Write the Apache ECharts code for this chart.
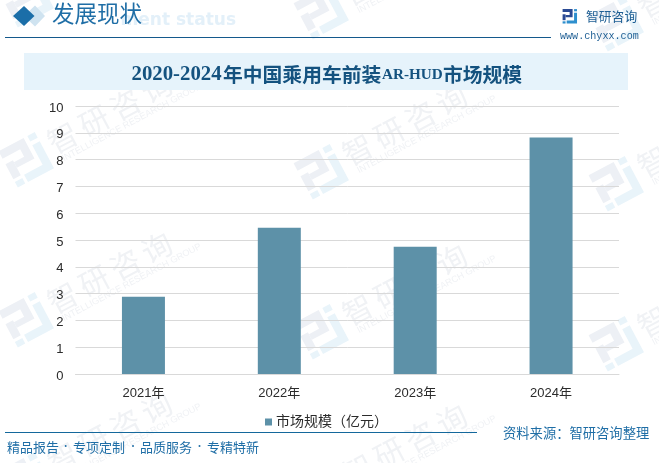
<!DOCTYPE html>
<html><head><meta charset="utf-8">
<style>html,body{margin:0;padding:0;background:#fff}#c{width:659px;height:463px}</style>
<script src="https://cdn.jsdelivr.net/npm/echarts@6/dist/echarts.min.js"></script>
</head><body><div id="c"></div>
<script>
var categories=['2021年','2022年','2023年','2024年'];
var seriesName='市场规模（亿元）';
var marketSize=[2.88,5.46,4.75,8.82];
var sans='"Noto Sans CJK SC"';
var serif='"Liberation Serif","Noto Sans CJK SC"';
var label='"Liberation Sans","Noto Sans CJK SC"';

function logo(x,y,s,rot,c1,c2,z){
  return {type:'group',x:x,y:y,scaleX:s,scaleY:s,rotation:rot,silent:true,children:[
    {type:'polygon',z:z,shape:{points:[[-20,-20],[7,-20],[7,2],[-12,2],[-12,-4],[-1,-4],[-1,-12],[-20,-12]]},style:{fill:c1}},
    {type:'rect',z:z,shape:{x:-20,y:-6,width:8,height:16},style:{fill:c1}},
    {type:'rect',z:z,shape:{x:-20,y:13,width:8,height:6},style:{fill:c2}},
    {type:'rect',z:z,shape:{x:11,y:-20,width:8,height:6},style:{fill:c2}},
    {type:'polygon',z:z,shape:{points:[[11,-10],[19,-10],[19,19],[-9,19],[-9,11],[11,11]]},style:{fill:c2}}
  ]};
}
var graphics=[];
var theta=28*Math.PI/180, wmText='智研咨询';
for(var k=0;k<3;k++){
  for(var j=-1;j<3;j++){
    var px=27+295*k, py=160+160*j+12*k;
    graphics.push(logo(px,py,1.05,theta,'#edf0f5','#e9f4fa',-6));
    var kids=[];
    for(var i=0;i<4;i++){
      kids.push({type:'text',z:-6,x:42+35.5*i,y:-3,style:{text:wmText[i],font:'30px '+sans,fill:'#f0f2f5',align:'center',verticalAlign:'middle'}});
    }
    kids.push({type:'text',z:-6,x:32,y:16,style:{text:'INTELLIGENCE RESEARCH GROUP',font:'9.2px '+label,fill:'#f0f2f5',align:'left',verticalAlign:'middle'}});
    graphics.push({type:'group',x:px,y:py,rotation:theta,silent:true,children:kids});
  }
}
var titleColor='#14527f';
graphics=graphics.concat([
  {type:'rect',z:-2,shape:{x:24,y:53,width:604,height:37},style:{fill:'#e6f3fb'}},
  {type:'text',x:131.5,y:75,style:{text:'2020-2024',font:'bold 20.8px "Liberation Serif"',fill:titleColor,align:'left',verticalAlign:'middle'}},
  {type:'text',x:223,y:74.5,style:{text:'年中国乘用车前装',font:'bold 19.8px '+sans,fill:titleColor,align:'left',verticalAlign:'middle'}},
  {type:'text',x:382,y:75,style:{text:'AR-HUD',font:'bold 15.2px "Liberation Serif"',fill:titleColor,align:'left',verticalAlign:'middle'}},
  {type:'text',x:443,y:74.5,style:{text:'市场规模',font:'bold 19.8px '+sans,fill:titleColor,align:'left',verticalAlign:'middle'}},
  {type:'polygon',shape:{points:[[35,5.5],[45,16],[35,26.5],[24,16]]},style:{fill:'#cfe3f0'}},
  {type:'polygon',shape:{points:[[24,6],[34.5,16],[24,26],[13,16]]},style:{fill:'#1b6ea8'}},
  {type:'text',x:236,y:21,style:{text:'ment status',font:'bold 17px "DejaVu Sans"',fill:'#e3f0f9',align:'right',verticalAlign:'middle'}},
  {type:'text',x:52,y:16,style:{text:'发展现状',font:'22.5px '+serif,fill:'#1f6ea6',align:'left',verticalAlign:'middle'}},
  {type:'line',shape:{x1:5,y1:37.5,x2:551,y2:37.5},style:{stroke:'#14598c',lineWidth:1}},
  logo(570,16.5,0.37,0,'#2a4a94','#2e8fce',1),
  {type:'text',x:586,y:16,style:{text:'智研咨询',font:'12.8px '+sans,fill:'#1f5f94',align:'left',verticalAlign:'middle'}},
  {type:'text',x:560,y:36,style:{text:'www.chyxx.com',font:'10.1px "Liberation Mono"',fill:'#1f5f94',align:'left',verticalAlign:'middle'}},
  {type:'line',shape:{x1:5,y1:432.5,x2:477,y2:432.5},style:{stroke:'#14689c',lineWidth:1}},
  {type:'text',x:503,y:433,style:{text:'资料来源：智研咨询整理',font:'13.3px '+sans,fill:'#1f6ea6',align:'left',verticalAlign:'middle'}}
]);
var footSegs=['精品报告','专项定制','品质服务','专精特新'];
var footX=[7,73,140,207], dotX=[65.7,133,199.5];
footSegs.forEach(function(t,i){
  graphics.push({type:'text',x:footX[i],y:447,style:{text:t,font:'13px '+sans,fill:'#1f6ea6',align:'left',verticalAlign:'middle'}});
});
dotX.forEach(function(x){
  graphics.push({type:'circle',shape:{cx:x,cy:446,r:1},style:{fill:'#1f6ea6'}});
});
var chart=echarts.init(document.getElementById('c'),null,{renderer:'canvas'});
chart.setOption({
  animation:false,
  backgroundColor:'#fff',
  grid:{left:75.5,right:40,top:106,bottom:89},
  legend:{top:410,left:260,itemWidth:7,itemHeight:7,itemGap:2,icon:'rect',
    textStyle:{fontFamily:label,fontSize:14,color:'#2b2b2b',padding:[0,0,0,-1]},data:[seriesName]},
  xAxis:{type:'category',data:categories,
    axisLine:{lineStyle:{color:'#d9d9d9',width:1}},axisTick:{show:false},
    axisLabel:{margin:13,fontFamily:label,fontSize:13,color:'#2b2b2b'}},
  yAxis:{type:'value',min:0,max:10,interval:1,
    axisLine:{show:false},axisTick:{show:false},
    splitLine:{lineStyle:{color:'#d9d9d9',width:1}},
    axisLabel:{margin:12,formatter:'{a|{value}}',
      rich:{a:{fontFamily:label,fontSize:13,color:'#2b2b2b',padding:[4,0,0,0]}}}},
  series:[{name:seriesName,type:'bar',data:marketSize,barWidth:43,itemStyle:{color:'#5d91a8'}}],
  graphic:graphics
});
</script></body></html>
